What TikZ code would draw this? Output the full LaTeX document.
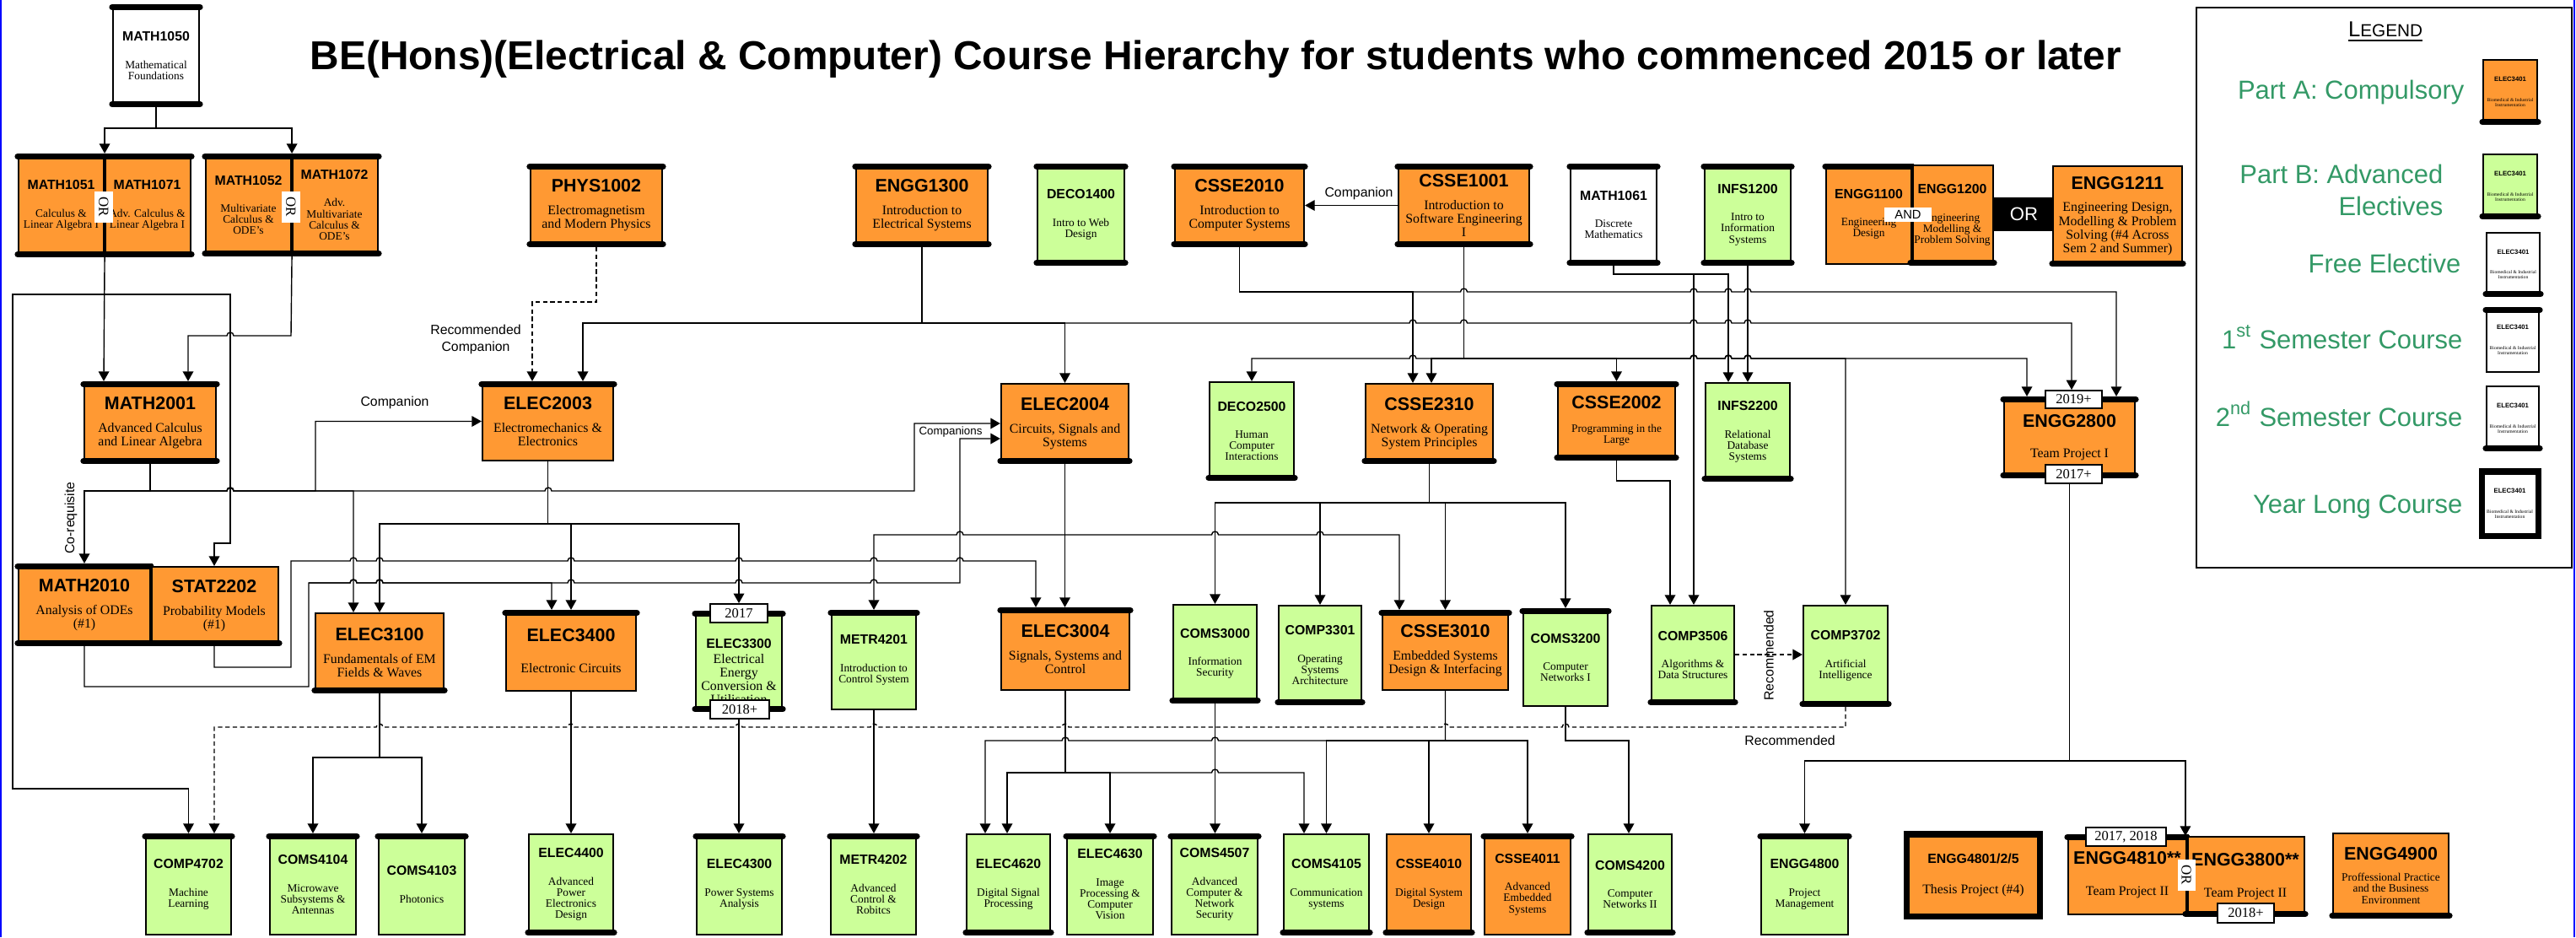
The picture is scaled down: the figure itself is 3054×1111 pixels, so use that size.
\documentclass[tikz,border=0pt]{standalone}
\usepackage{fontspec}
\setmainfont{Liberation Serif}
\setsansfont{Liberation Sans}
\usetikzlibrary{arrows.meta}
\definecolor{partA}{RGB}{255,153,51}
\definecolor{partB}{RGB}{204,255,153}
\definecolor{legtxt}{RGB}{51,153,102}
\pgfdeclarelayer{bg}
\pgfsetlayers{bg,main}
\newcommand{\titlefont}{\sffamily\bfseries\fontsize{13.6}{16}\selectfont}
\newcommand{\lblfont}{\sffamily\fontsize{4.5}{5.2}\selectfont}
\newcommand{\yrfont}{\normalfont\fontsize{4.7}{5}\selectfont}
\newcommand{\legfont}{\sffamily\fontsize{8.8}{10}\selectfont}
\newcommand{\bigcode}{\sffamily\bfseries\fontsize{6.1}{7}\selectfont}
\newcommand{\smallcode}{\sffamily\bfseries\fontsize{4.5}{5.4}\selectfont}
\newcommand{\bigdesc}{\normalfont\fontsize{4.5}{4.6}\selectfont}
\newcommand{\smalldesc}{\normalfont\fontsize{3.8}{3.75}\selectfont}
\newcommand{\crs}[5]{\centering\parindent=0pt\relax\parskip=0pt\relax\spaceskip=0pt\relax\xspaceskip=0pt\relax #1#3\par\vspace{#5}#2#4\par}
\newcommand{\bigcrs}[2]{\crs{\bigcode}{\bigdesc}{#1}{#2}{3pt}}
\newcommand{\smallcrs}[2]{\crs{\smallcode}{\smalldesc}{#1}{#2}{5.5pt}}
\newcommand{\legcrs}{\crs{\sffamily\bfseries\fontsize{2.2}{2.6}\selectfont}{\normalfont\fontsize{1.6}{1.7}\selectfont}{ELEC3401}{Biomedical \& Industrial\\Instrumentation}{5pt}}
\newcommand{\hopr}[2]{-- (#1-4,#2) arc[start angle=180,end angle=0,radius=0.04cm]}
\newcommand{\hopl}[2]{-- (#1+4,#2) arc[start angle=0,end angle=180,radius=0.04cm]}

\begin{document}
\begin{tikzpicture}[x=0.01cm,y=-0.01cm]
\tikzset{box/.style={draw,line width=0.6pt,rectangle,inner sep=0pt,align=center}}
\tikzset{pa/.style={box,fill=partA},pb/.style={box,fill=partB},fe/.style={box,fill=white}}
\tikzset{sz/.style 2 args={minimum width=#1,text width=#1,minimum height=#2}}
\tikzset{bar/.style={line width=2pt,line cap=round}}
\tikzset{topbar/.style={append after command={([yshift=-1pt]\tikzlastnode.north west) edge[bar] ([yshift=-1pt]\tikzlastnode.north east)}}}
\tikzset{botbar/.style={append after command={([yshift=1pt]\tikzlastnode.south west) edge[bar] ([yshift=1pt]\tikzlastnode.south east)}}}
\tikzset{yl/.style={line width=2pt}}
\tikzset{yr/.style={draw,fill=white,line width=0.5pt,inner sep=0pt,font=\yrfont}}
\tikzset{orl/.style={fill=white,inner sep=0pt,minimum width=0.37cm,minimum height=0.22cm,rotate=-90,font=\normalfont\fontsize{4.8}{5}\selectfont}}
\tikzset{lbl/.style={inner sep=0pt,font=\lblfont}}
\tikzset{leg/.style={anchor=base east,inner sep=0pt,text=legtxt,font=\legfont}}
\tikzset{arr/.style={draw,line width=0.4pt,-{Triangle[length=3.3pt,width=3.6pt]}}}
\tikzset{darr/.style={arr,dash pattern=on 1.5pt off 1pt}}
\useasboundingbox (0,0) rectangle (3054,1111);
\draw[blue,line width=0.8pt] (1,0) -- (1,1111);
\draw[blue,line width=0.8pt] (3052,0) -- (3052,1111);

\node[anchor=base,inner sep=0pt,font=\titlefont] (title) at (1441.5,82) {BE(Hons)(Electrical \& Computer) Course Hierarchy for students who commenced 2015 or later};

\node[fe,sz={1.02cm}{1.20cm},topbar,botbar] (math1050) at (185,66) {\smallcrs{MATH1050}{Mathematical\\Foundations}};
\node[pa,sz={1.01cm}{1.21cm},topbar,botbar] (math1051) at (72.5,243.5) {\smallcrs{MATH1051}{Calculus \&\\Linear Algebra I}};
\node[pa,sz={1.03cm}{1.21cm},topbar,botbar] (math1071) at (174.5,243.5) {\smallcrs{MATH1071}{Adv. Calculus \&\\Linear Algebra I}};
\node[pa,sz={1.01cm}{1.20cm},topbar,botbar] (math1052) at (294.5,243) {\smallcrs{MATH1052}{Multivariate\\Calculus \&\\ODE's}};
\node[pa,sz={1.03cm}{1.20cm},topbar,botbar] (math1072) at (396.5,243) {\smallcrs{MATH1072}{Adv.\\Multivariate\\Calculus \&\\ODE's}};
\node[pa,sz={1.56cm}{0.97cm},topbar,botbar] (phys1002) at (707,243.5) {\bigcrs{PHYS1002}{Electromagnetism\\and Modern Physics}};
\node[pa,sz={1.56cm}{0.97cm},topbar,botbar] (engg1300) at (1093,243.5) {\bigcrs{ENGG1300}{Introduction to\\Electrical Systems}};
\node[pb,sz={1.03cm}{1.19cm},topbar,botbar] (deco1400) at (1281.5,254.5) {\smallcrs{DECO1400}{Intro to Web\\Design}};
\node[pa,sz={1.53cm}{0.97cm},topbar,botbar] (csse2010) at (1469.5,243.5) {\bigcrs{CSSE2010}{Introduction to\\Computer Systems}};
\node[pa,sz={1.55cm}{0.97cm},topbar,botbar] (csse1001) at (1735.5,243.5) {\bigcrs{CSSE1001}{Introduction to\\Software Engineering\\I}};
\node[fe,sz={1.02cm}{1.19cm},topbar,botbar] (math1061) at (1913,254.5) {\smallcrs{MATH1061}{Discrete\\Mathematics}};
\node[pb,sz={1.02cm}{1.19cm},topbar,botbar] (infs1200) at (2072,254.5) {\smallcrs{INFS1200}{Intro to\\Information\\Systems}};
\node[pa,sz={1.01cm}{1.18cm},topbar] (engg1100) at (2215.5,254) {\smallcrs{ENGG1100}{Engineering\\Design}};
\node[pa,sz={0.97cm}{1.18cm},botbar] (engg1200) at (2314.5,255) {\smallcrs{ENGG1200}{Engineering\\Modelling \&\\Problem Solving}};
\node[pa,sz={1.53cm}{1.18cm},botbar] (engg1211) at (2510.5,256) {\bigcrs{ENGG1211}{Engineering Design,\\Modelling \& Problem\\Solving (\#4 Across\\Sem 2 and Summer)}};

\node[pa,sz={1.56cm}{0.96cm},topbar,botbar] (math2001) at (178,501) {\bigcrs{MATH2001}{Advanced Calculus\\and Linear Algebra}};
\node[pa,sz={1.55cm}{0.93cm},topbar] (elec2003) at (649.5,499.5) {\bigcrs{ELEC2003}{Electromechanics \&\\Electronics}};
\node[pa,sz={1.51cm}{0.94cm},botbar] (elec2004) at (1262.5,502) {\bigcrs{ELEC2004}{Circuits, Signals and\\Systems}};
\node[pb,sz={1.00cm}{1.16cm},botbar] (deco2500) at (1484,511) {\smallcrs{DECO2500}{Human\\Computer\\Interactions}};
\node[pa,sz={1.51cm}{0.94cm},botbar] (csse2310) at (1694.5,502) {\bigcrs{CSSE2310}{Network \& Operating\\System Principles}};
\node[pa,sz={1.39cm}{0.92cm},topbar,botbar] (csse2002) at (1916.5,499) {\crs{\bigcode}{\smalldesc}{CSSE2002}{Programming in the\\Large}{4pt}};
\node[pb,sz={1.00cm}{1.16cm},botbar] (infs2200) at (2072,512) {\smallcrs{INFS2200}{Relational\\Database\\Systems}};
\node[pa,sz={1.55cm}{0.95cm},topbar,botbar] (engg2800) at (2453.5,518.5) {\crs{\bigcode}{\bigdesc}{ENGG2800}{Team Project I}{5.8pt}};

\node[pa,sz={1.56cm}{0.96cm},topbar,botbar] (math2010) at (100,717) {\bigcrs{MATH2010}{Analysis of ODEs\\(\#1)}};
\node[pa,sz={1.52cm}{0.93cm},botbar] (stat2202) at (254,718.5) {\bigcrs{STAT2202}{Probability Models\\(\#1)}};
\node[pa,sz={1.52cm}{0.94cm},botbar] (elec3100) at (450,774) {\bigcrs{ELEC3100}{Fundamentals of EM\\Fields \& Waves}};
\node[pa,sz={1.54cm}{0.95cm},topbar] (elec3400) at (677,771.5) {\crs{\bigcode}{\bigdesc}{ELEC3400}{Electronic Circuits}{5.8pt}};
\node[pb,sz={1.02cm}{1.18cm},topbar,botbar] (elec3300) at (876,784) {\crs{\smallcode\rule{0pt}{10pt}}{\bigdesc}{ELEC3300}{Electrical\\Energy\\Conversion \&\\Utilisation}{0.5pt}};
\node[pb,sz={1.00cm}{1.17cm},topbar] (metr4201) at (1036,782.5) {\smallcrs{METR4201}{Introduction to\\Control System}};
\node[pa,sz={1.52cm}{0.97cm},topbar] (elec3004) at (1263,769.5) {\bigcrs{ELEC3004}{Signals, Systems and\\Control}};
\node[pb,sz={0.99cm}{1.16cm},botbar] (coms3000) at (1440.5,775) {\smallcrs{COMS3000}{Information\\Security}};
\node[pb,sz={0.98cm}{1.17cm},botbar] (comp3301) at (1565,776.5) {\smallcrs{COMP3301}{Operating\\Systems\\Architecture}};
\node[pa,sz={1.49cm}{0.94cm},topbar] (csse3010) at (1713.5,771) {\bigcrs{CSSE3010}{Embedded Systems\\Design \& Interfacing}};
\node[pb,sz={1.00cm}{1.15cm},topbar] (coms3200) at (1856,779.5) {\smallcrs{COMS3200}{Computer\\Networks I}};
\node[pb,sz={0.98cm}{1.17cm},botbar] (comp3506) at (2007,776.5) {\smallcrs{COMP3506}{Algorithms \&\\Data Structures}};
\node[pb,sz={1.00cm}{1.19cm},botbar] (comp3702) at (2188,777.5) {\smallcrs{COMP3702}{Artificial\\Intelligence}};

\node[pb,sz={1.01cm}{1.19cm},topbar] (comp4702) at (223.5,1048.5) {\smallcrs{COMP4702}{Machine\\Learning}};
\node[pb,sz={1.02cm}{1.19cm},topbar] (coms4104) at (371,1048.5) {\smallcrs{COMS4104}{Microwave\\Subsystems \&\\Antennas}};
\node[pb,sz={1.02cm}{1.19cm},topbar] (coms4103) at (500,1048.5) {\smallcrs{COMS4103}{Photonics}};
\node[pb,sz={1.00cm}{1.19cm},botbar] (elec4400) at (677,1048.5) {\smallcrs{ELEC4400}{Advanced\\Power\\Electronics\\Design}};
\node[pb,sz={1.01cm}{1.19cm},topbar] (elec4300) at (876.5,1048.5) {\smallcrs{ELEC4300}{Power Systems\\Analysis}};
\node[pb,sz={1.01cm}{1.19cm},topbar] (metr4202) at (1035.5,1048.5) {\smallcrs{METR4202}{Advanced\\Control \&\\Robitcs}};
\node[pb,sz={0.99cm}{1.19cm},botbar] (elec4620) at (1195.5,1048.5) {\smallcrs{ELEC4620}{Digital Signal\\Processing}};
\node[pb,sz={1.02cm}{1.19cm},topbar] (elec4630) at (1316,1048.5) {\smallcrs{ELEC4630}{Image\\Processing \&\\Computer\\Vision}};
\node[pb,sz={1.02cm}{1.19cm},topbar] (coms4507) at (1440,1048.5) {\smallcrs{COMS4507}{Advanced\\Computer \&\\Network\\Security}};
\node[pb,sz={1.01cm}{1.19cm},botbar] (coms4105) at (1572.5,1048.5) {\smallcrs{COMS4105}{Communication\\systems}};
\node[pa,sz={1.00cm}{1.19cm},botbar] (csse4010) at (1694,1048.5) {\smallcrs{CSSE4010}{Digital System\\Design}};
\node[pa,sz={1.02cm}{1.19cm},topbar] (csse4011) at (1811,1048.5) {\smallcrs{CSSE4011}{Advanced\\Embedded\\Systems}};
\node[pb,sz={0.99cm}{1.19cm},botbar] (coms4200) at (1932.5,1048.5) {\smallcrs{COMS4200}{Computer\\Networks II}};
\node[pb,sz={1.03cm}{1.19cm},topbar] (engg4800) at (2139.5,1048.5) {\smallcrs{ENGG4800}{Project\\Management}};
\node[pa,yl,sz={1.57cm}{0.97cm}] (engg4801) at (2339.5,1037.5) {\crs{\smallcode}{\bigdesc}{ENGG4801/2/5}{Thesis Project (\#4)}{5.4pt}};
\node[pa,sz={1.40cm}{0.94cm},topbar] (engg4810) at (2522,1037) {\crs{\bigcode}{\bigdesc}{ENGG4810**}{Team Project II}{5.8pt}};
\node[pa,sz={1.40cm}{0.94cm},botbar] (engg3800) at (2662,1039) {\crs{\bigcode}{\bigdesc}{ENGG3800**}{Team Project II}{5.8pt}};
\node[pa,sz={1.37cm}{1.00cm},botbar] (engg4900) at (2834.5,1038) {\crs{\bigcode}{\smalldesc}{ENGG4900}{Proffessional Practice\\and the Business\\Environment}{3.3pt}};

\draw[line width=1.2pt] (math1051.north east) -- (math1051.south east);
\draw[line width=1.2pt] (math1052.north east) -- (math1052.south east);
\draw[line width=1.2pt] (math2010.north east) -- (math2010.south east);
\draw[line width=1.2pt] (engg1100.north east) -- (engg1100.south east);
\draw[line width=1.2pt] (engg4810.north east) -- (engg4810.south east);

\node[yr,minimum width=0.67cm,minimum height=0.21cm] (lbl2019) at (2458.5,473.5) {2019+};
\node[yr,minimum width=0.67cm,minimum height=0.22cm] (lbl2017p) at (2458.5,562) {2017+};
\node[yr,minimum width=0.68cm,minimum height=0.22cm] (lbl2017) at (876,727) {2017};
\node[yr,minimum width=0.70cm,minimum height=0.22cm] (lbl2018) at (877,841) {2018+};
\node[yr,minimum width=0.95cm,minimum height=0.22cm] (lbl1718) at (2520.5,992) {2017, 2018};
\node[yr,minimum width=0.67cm,minimum height=0.23cm] (lbl2018b) at (2662.5,1082.5) {2018+};
\node[orl] (or1) at (123,245) {OR};
\node[orl] (or2) at (345,245) {OR};
\node[orl,minimum height=0.21cm] (or3) at (2592,1037) {OR};
\node[fill=white,inner sep=0pt,minimum width=0.56cm,minimum height=0.17cm,font=\sffamily\fontsize{4.2}{5}\selectfont] (and) at (2262,254.5) {AND};
\node[fill=black,text=white,inner sep=0pt,minimum width=0.71cm,minimum height=0.40cm,font=\sffamily\fontsize{6.3}{7}\selectfont] (orblk) at (2399.5,254) {OR};

\node[lbl] (lcomp1) at (468,477) {Companion};
\node[lbl] (lcomp2) at (1611,229) {Companion};
\node[lbl,align=center] (lrec1) at (564,402) {Recommended\\[0.5pt]Companion};
\node[lbl,font=\sffamily\fontsize{3.8}{4}\selectfont] (lcomps) at (1127,512) {Companions};
\node[lbl,rotate=90] (lcoreq) at (84,614) {Co-requisite};
\node[lbl,rotate=90] (lrec2) at (2097,777) {Recommended};
\node[lbl] (lrec3) at (2122,878) {Recommended};

\node[draw,line width=0.6pt,minimum width=4.45cm,minimum height=6.64cm,inner sep=0pt] (legend) at (2826.5,341) {};
\node[anchor=base,inner sep=0pt,font=\sffamily] (legtitle) at (2828,43) {\underline{{\fontsize{7.3}{8}\selectfont L}{\fontsize{5.9}{7}\selectfont EGEND}}};
\node[leg] (legA) at (2922,117) {Part A: Compulsory};
\node[leg] (legB) at (2897,217) {Part B: Advanced};
\node[leg] (legB2) at (2897,255) {Electives};
\node[leg] (legF) at (2918,323) {Free Elective};
\node[leg] (leg1) at (2920,413) {1\textsuperscript{st} Semester Course};
\node[leg] (leg2) at (2920,505) {2\textsuperscript{nd} Semester Course};
\node[leg] (legY) at (2920,608) {Year Long Course};
\node[pa,sz={0.64cm}{0.76cm},botbar] (boxA) at (2976,109) {\legcrs};
\node[pb,sz={0.64cm}{0.76cm},botbar] (boxB) at (2976,221) {\legcrs};
\node[fe,sz={0.63cm}{0.75cm},botbar] (boxF) at (2979.5,313.5) {\legcrs};
\node[fe,sz={0.62cm}{0.76cm},topbar] (box1) at (2979,403) {\legcrs};
\node[fe,sz={0.62cm}{0.76cm},botbar] (box2) at (2979,496) {\legcrs};
\node[fe,yl,sz={0.67cm}{0.76cm}] (boxY) at (2975.5,597) {\legcrs};

\begin{pgfonlayer}{bg}
\draw[arr] (math1050.south) -- ++(0,25) -| (math1051.north east);
\draw[arr] (math1050.south) -- ++(0,25) -| (math1052.north east);
\coordinate (m51) at (123,349);
\draw[arr] (math1051.south east) -- (123,0 |- math2001.north);
\draw[arr] (m51) -| (273,644) -| (stat2202.north);
\draw[arr] (m51) -| (15,935) -| (comp4702.north);
\draw[arr] (math1052.south east) -- (345,398) \hopl{273}{398} -| (223,0 |- math2001.north);

\coordinate (m2001) at (math2001.south |- 0,582);
\draw[arr] (math2001.south) -- (m2001) -| (math2010.north);
\draw[arr] (m2001) \hopr{273}{582} -- (374,582) |- (elec2003.west);
\draw[arr] (m2001) \hopr{273}{582} -| (419,0 |- elec3100.north);
\draw[arr] (m2001) \hopr{273}{582} \hopr{650}{582} -- (1084,582) |- (elec2004.west);

\coordinate (e2003) at (elec2003.south |- 0,621);
\draw[arr] (elec2003.south) -- (e2003) -| (elec3100.north);
\draw[arr] (e2003) -| (elec3400.north);
\draw[arr] (e2003) -| (lbl2017.north);

\draw[arr] (stat2202.south) |- (345,791) -- (345,665) \hopr{419}{665} \hopr{450}{665} \hopr{677}{665} \hopr{876}{665} \hopr{1036}{665} \hopr{1138}{665} -| (1228,0 |- elec3004.north);
\coordinate (m2010) at (366,691);
\draw[arr] (math2010.south) |- (366,814) -- (m2010) \hopr{419}{691} \hopr{450}{691} -| (654,0 |- elec3400.north);
\draw[arr] (m2010) \hopr{419}{691} \hopr{450}{691} \hopr{677}{691} \hopr{876}{691} \hopr{1036}{691} -- (1138,691) |- (elec2004.west |- 0,520);

\coordinate (e2004) at (elec2004.south |- 0,634);
\draw[arr] (elec2004.south) -- (elec2004.south |- elec3004.north);
\draw[arr] (e2004) \hopl{1138}{634} -| (metr4201.north);
\draw[arr] (e2004) \hopr{1440.5}{634} \hopr{1565}{634} -| (1659,0 |- csse3010.north);

\coordinate (e1300) at (engg1300.south |- 0,383);
\draw[arr] (engg1300.south) -- (e1300) -| (691,0 |- elec2003.north);
\draw[arr] (e1300) -| (elec2004.north);
\draw[arr] (e1300) \hopr{1675}{383} \hopr{1735.5}{383} \hopr{2008}{383} \hopr{2049}{383} \hopr{2072}{383} -| (2456,0 |- lbl2019.north);

\coordinate (c2010) at (csse2010.south |- 0,346);
\draw[arr] (csse2010.south) -- (c2010) -| (1675,0 |- csse2310.north);
\draw[arr] (c2010) \hopr{1735.5}{346} \hopr{2008}{346} \hopr{2049}{346} \hopr{2072}{346} -| (2509,0 |- engg2800.north);

\coordinate (c1001) at (csse1001.south |- 0,425);
\draw[arr] (csse1001.south) -- (c1001) -| (1697,0 |- csse2310.north);
\draw[arr] (c1001) -- (1697,425) \hopl{1675}{425} -| (deco2500.north);
\draw[arr] (c1001) -| (csse2002.north);
\draw[arr] (c1001) \hopr{2008}{425} \hopr{2049}{425} \hopr{2072}{425} -| (comp3702.north);
\draw[arr] (c1001) \hopr{2008}{425} \hopr{2049}{425} \hopr{2072}{425} -| (2403,0 |- engg2800.north);

\draw[arr] (math1061.south) |- (2049,325) -- (2049,0 |- infs2200.north);
\draw[arr] (math1061.south) |- (2008,325) -- (2008,0 |- comp3506.north);
\draw[arr] (infs1200.south) -- (infs1200.south |- infs2200.north);
\draw[arr] (csse2002.south) |- (1980,570) -- (1980,0 |- comp3506.north);

\coordinate (c2310) at (csse2310.south |- 0,596);
\draw[arr] (csse2310.south) -- (c2310) -| (coms3000.north);
\draw[arr] (c2310) -| (comp3301.north);
\draw[arr] (c2310) -| (csse3010.north);
\draw[arr] (c2310) -| (coms3200.north);

\coordinate (e2800) at (engg2800.south |- 0,902);
\draw[arr] (engg2800.south) -- (e2800) -| (engg4800.north);
\draw[arr] (e2800) -| (engg3800.north west);

\coordinate (e3100) at (elec3100.south |- 0,898);
\draw[arr] (elec3100.south) -- (e3100) -| (coms4104.north);
\draw[arr] (e3100) -| (coms4103.north);
\draw[arr] (elec3400.south) -- (elec3400.south |- elec4400.north);
\draw[arr] (elec3300.south) -- (elec3300.south |- elec4300.north);
\draw[arr] (metr4201.south) -- (metr4201.south |- metr4202.north);
\coordinate (e3004) at (elec3004.south |- 0,916);
\draw[arr] (elec3004.south) -- (e3004) -| (1194,0 |- elec4620.north);
\draw[arr] (e3004) -| (elec4630.north);
\draw[arr] (e3004) \hopr{1440.5}{916} -| (1546,0 |- coms4105.north);
\coordinate (c3010) at (csse3010.south |- 0,878);
\draw[arr] (csse3010.south) -- (c3010) \hopl{1440.5}{878} \hopl{1263}{878} -| (1168,0 |- elec4620.north);
\draw[arr] (c3010) -| (coms4105.north);
\draw[arr] (c3010) -| (csse4010.north);
\draw[arr] (c3010) -| (csse4011.north);
\draw[arr] (coms3000.south) -- (coms3000.south |- coms4507.north);
\draw[arr] (coms3200.south) |- (1931,878) -- (1931,0 |- coms4200.north);

\draw[darr] (comp3702.south) -- (comp3702.south |- 0,862) \hopl{1856}{862} \hopl{1713.5}{862} \hopl{1263}{862} \hopl{1036}{862} \hopl{876}{862} \hopl{677}{862} \hopl{450}{862} -| (254,0 |- comp4702.north);
\draw[arr] (csse1001.west) -- (csse2010.east);
\draw[darr] (phys1002.south) |- (631,358) -- (631,0 |- elec2003.north);
\draw[darr] (comp3506.east |- 0,776) -- (comp3702.west |- 0,776);
\end{pgfonlayer}
\end{tikzpicture}
\end{document}
